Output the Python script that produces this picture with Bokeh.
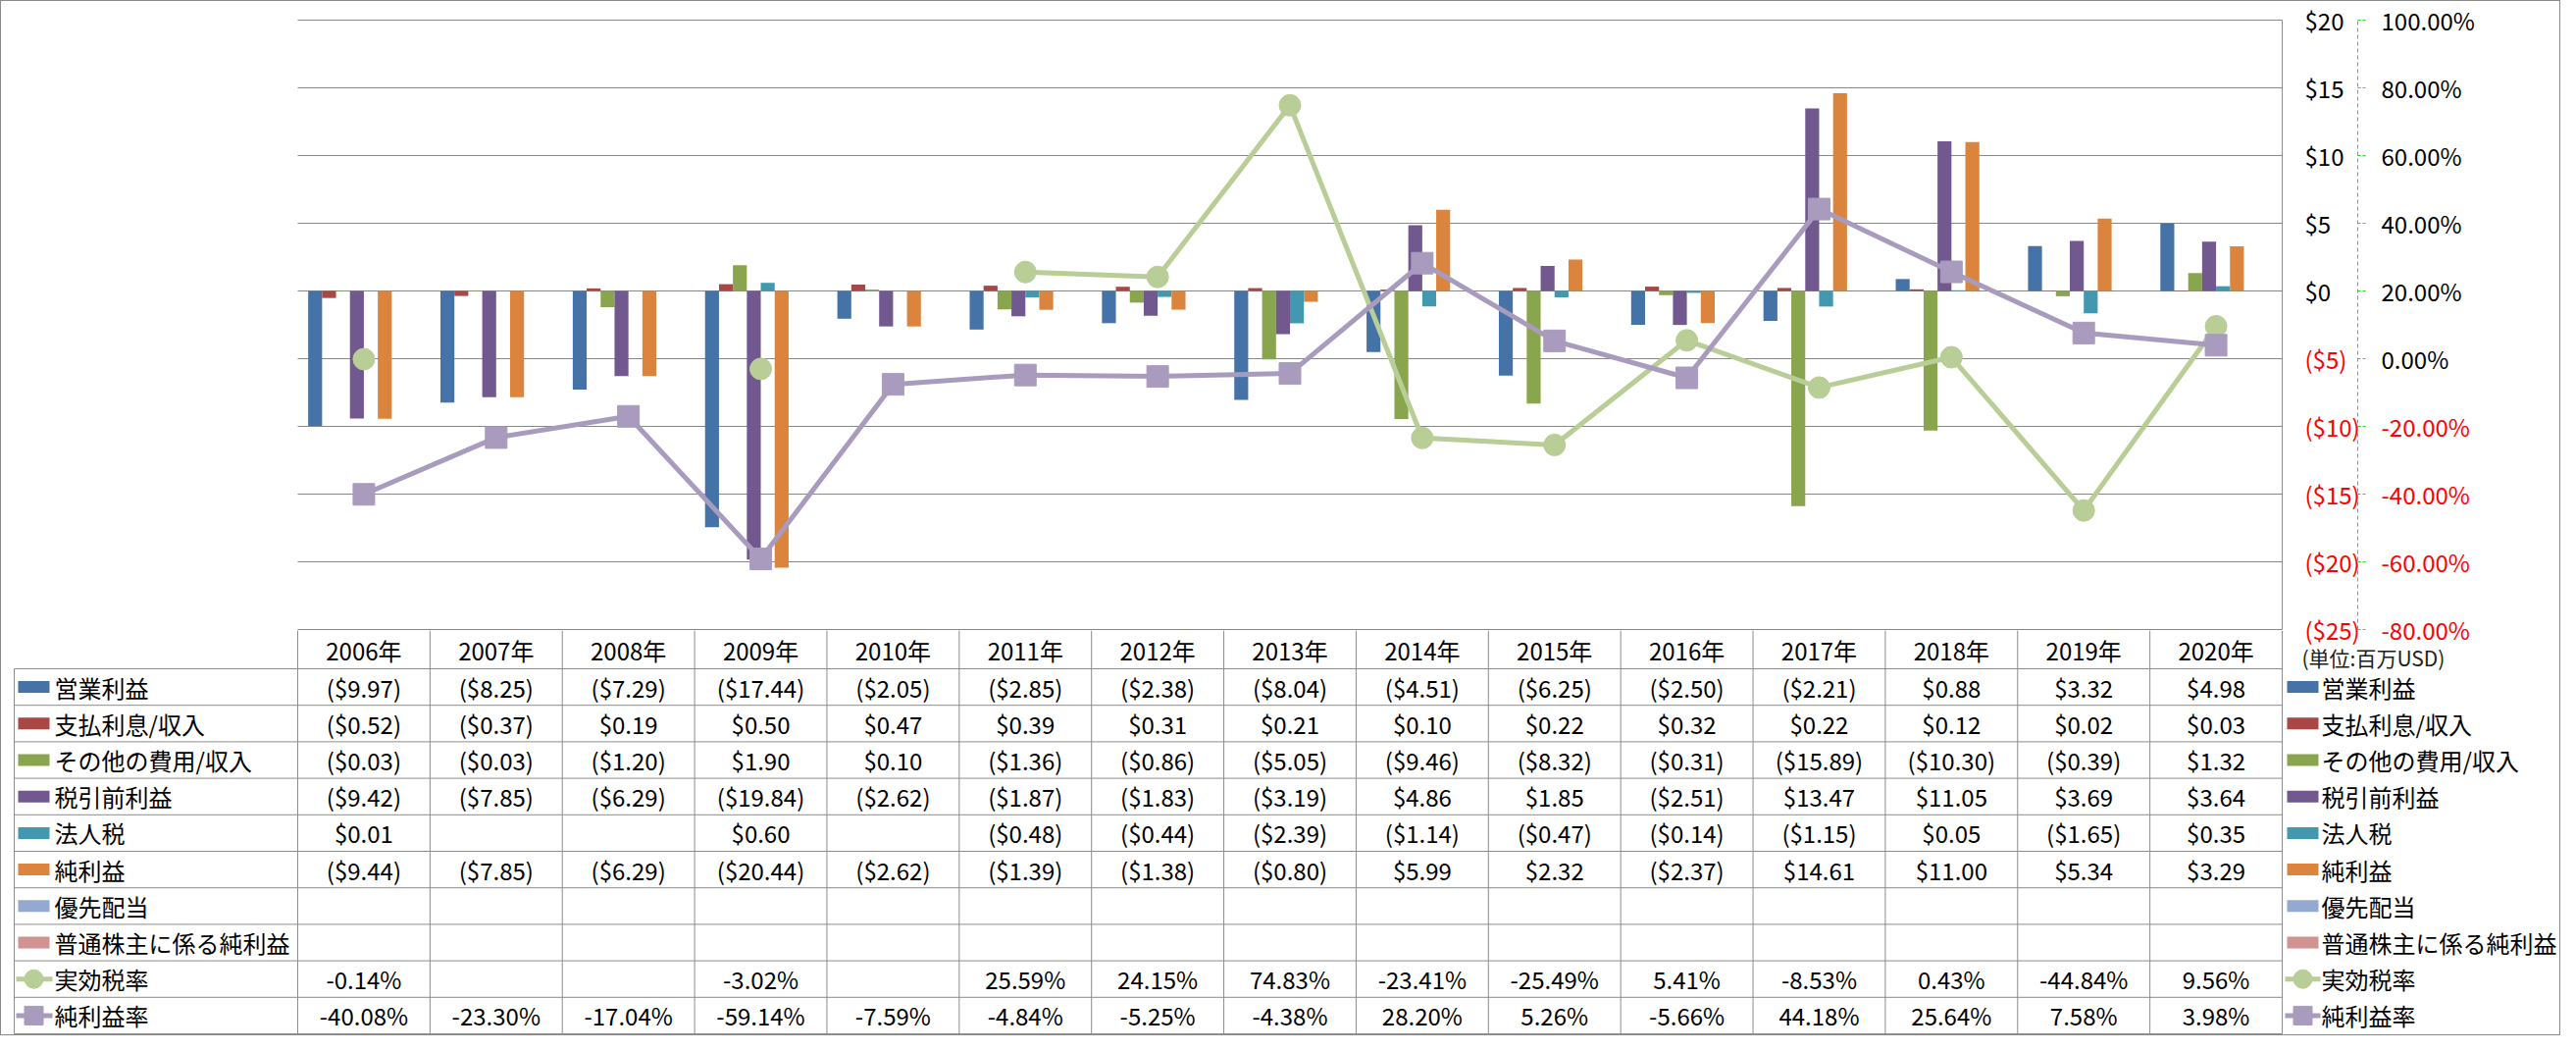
import numpy as np
from bokeh.plotting import figure
from bokeh.layouts import row, column
from bokeh.models import Range1d
from bokeh.core.properties import value
from bokeh.embed import file_html
from bokeh.resources import INLINE

# ---------------- data ----------------
years = ["2006年", "2007年", "2008年", "2009年", "2010年", "2011年", "2012年", "2013年",
         "2014年", "2015年", "2016年", "2017年", "2018年", "2019年", "2020年"]

bar_names = ["営業利益", "支払利息/収入", "その他の費用/収入", "税引前利益", "法人税", "純利益",
             "優先配当", "普通株主に係る純利益"]
operating_income = [-9.97, -8.25, -7.29, -17.44, -2.05, -2.85, -2.38, -8.04, -4.51, -6.25, -2.50, -2.21, 0.88, 3.32, 4.98]
interest_income = [-0.52, -0.37, 0.19, 0.50, 0.47, 0.39, 0.31, 0.21, 0.10, 0.22, 0.32, 0.22, 0.12, 0.02, 0.03]
other_income = [-0.03, -0.03, -1.20, 1.90, 0.10, -1.36, -0.86, -5.05, -9.46, -8.32, -0.31, -15.89, -10.30, -0.39, 1.32]
pretax_income = [-9.42, -7.85, -6.29, -19.84, -2.62, -1.87, -1.83, -3.19, 4.86, 1.85, -2.51, 13.47, 11.05, 3.69, 3.64]
income_tax = [0.01, None, None, 0.60, None, -0.48, -0.44, -2.39, -1.14, -0.47, -0.14, -1.15, 0.05, -1.65, 0.35]
net_income = [-9.44, -7.85, -6.29, -20.44, -2.62, -1.39, -1.38, -0.80, 5.99, 2.32, -2.37, 14.61, 11.00, 5.34, 3.29]
preferred_dividend = [None] * 15
common_net_income = [None] * 15

line_names = ["実効税率", "純利益率"]
effective_tax_rate = [-0.14, None, None, -3.02, None, 25.59, 24.15, 74.83, -23.41, -25.49, 5.41, -8.53, 0.43, -44.84, 9.56]
net_margin = [-40.08, -23.30, -17.04, -59.14, -7.59, -4.84, -5.25, -4.38, 28.20, 5.26, -5.66, 44.18, 25.64, 7.58, 3.98]

dollar_ticks = [20, 15, 10, 5, 0, -5, -10, -15, -20, -25]
pct_ticks = [100, 80, 60, 40, 20, 0, -20, -40, -60, -80]
unit_note = "(単位:百万USD)"

bar_series = [operating_income, interest_income, other_income, pretax_income, income_tax,
              net_income, preferred_dividend, common_net_income]
bar_colors = ["#4572A7", "#AA4643", "#89A54E", "#71588F", "#4198AF", "#DB843D", "#93A9CF", "#D19392"]
line_series = [effective_tax_rate, net_margin]
line_colors = ["#B9CD96", "#A99BBD"]
line_markers = ["circle", "square"]

# ---------------- geometry ----------------
FONT = "Noto Sans CJK JP"
GRID_C = "#878787"
TABLE_C = "#8c8c8c"
N = len(years)
PAGE = 8
TOTAL_W, TOTAL_H = 2608, 1053
PLOT_L, PLOT_R = 310, 2333          # page x of chart area
PLOT_T, PLOT_B = 27, 648            # page y of top / bottom grid lines
COLW = (PLOT_R - PLOT_L) / N
Y_MIN, Y_MAX = min(dollar_ticks), max(dollar_ticks)
P_MIN, P_MAX = min(pct_ticks), max(pct_ticks)
PXU = (PLOT_B - PLOT_T) / (Y_MAX - Y_MIN)
LEFT_W = PLOT_R + 1 - PAGE          # width of chart / table figures
R_W = TOTAL_W - LEFT_W
A_H = PLOT_B + 1 - PAGE
B_H = TOTAL_H - A_H
ROW_PX = 37.2
HDR = (688 - (PLOT_B + 1)) / ROW_PX  # header height in row units
X_START = -(PLOT_L - PAGE) / COLW
X_END = N + 1 / COLW


def to_pct(v):
    return P_MIN + (v - Y_MIN) * (P_MAX - P_MIN) / (Y_MAX - Y_MIN)


def nan(vals):
    return [np.nan if v is None else v for v in vals]


def fmt_usd(v):
    if v is None:
        return ""
    return f"(${abs(v):.2f})" if v < 0 else f"${v:.2f}"


def fmt_pct(v):
    return "" if v is None else f"{v:.2f}%"


def make_fig(w, h, xr, yr):
    f = figure(width=w, height=h, x_range=xr, y_range=yr,
               x_axis_location=None, y_axis_location=None, toolbar_location=None,
               output_backend="svg", min_border=0, outline_line_color=None)
    f.grid.visible = False
    return f


# ---------------- chart figure ----------------
A = make_fig(LEFT_W, A_H, Range1d(X_START, X_END),
             Range1d(Y_MIN - 1 / PXU, Y_MAX + (PLOT_T - PAGE) / PXU))
A.extra_y_ranges = {"pct": Range1d(to_pct(A.y_range.start), to_pct(A.y_range.end))}
nt = len(dollar_ticks)
A.segment(x0=[0] * nt, x1=[N] * nt, y0=dollar_ticks, y1=dollar_ticks,
          line_color=GRID_C, line_width=1)
A.segment(x0=[N], x1=[N], y0=[Y_MIN], y1=[Y_MAX], line_color=TABLE_C, line_width=1)

bw = 1 / (len(bar_series) + 1.5)
for k, (vals, col) in enumerate(zip(bar_series, bar_colors)):
    off = (1.25 + k) * bw
    xs = [i + off for i, v in enumerate(vals) if v is not None]
    tops = [v for v in vals if v is not None]
    if xs:
        A.vbar(x=xs, top=tops, bottom=0, width=bw, fill_color=col, line_color=None)

xc = [i + 0.5 for i in range(N)]
for vals, col, mk in zip(line_series, line_colors, line_markers):
    A.line(xc, nan(vals), y_range_name="pct", line_color=col, line_width=5,
           line_join="round", line_cap="round")
    A.scatter(xc, nan(vals), y_range_name="pct", marker=mk, size=22,
              fill_color=col, line_color=col, line_width=1)

# ---------------- data table figure ----------------
leg_l = (21 - PLOT_L) / COLW
B = make_fig(LEFT_W, B_H, Range1d(X_START, X_END), Range1d(start=B_H / ROW_PX, end=0))
nrows = len(bar_series) + len(line_series)
hy = [HDR + r for r in range(nrows + 1)]
B.segment(x0=[leg_l] * len(hy), x1=[N] * len(hy), y0=hy, y1=hy, line_color=TABLE_C, line_width=1)
vx = list(range(N + 1))
B.segment(x0=vx, x1=vx, y0=[0] * len(vx), y1=[HDR + nrows] * len(vx), line_color=TABLE_C, line_width=1)
B.segment(x0=[leg_l], x1=[leg_l], y0=[HDR], y1=[HDR + nrows], line_color=TABLE_C, line_width=1)

B.text(x=xc, y=[HDR / 2] * N, text=years, text_align="center", text_baseline="middle",
       text_font=value(FONT), text_font_size="24px", text_color="#000000")

cell_x, cell_y, cell_t = [], [], []
rows_text = [[fmt_usd(v) for v in s] for s in bar_series] + [[fmt_pct(v) for v in s] for s in line_series]
for r, texts in enumerate(rows_text):
    for i, t in enumerate(texts):
        if t:
            cell_x.append(i + 0.5)
            cell_y.append(HDR + r + 0.5)
            cell_t.append(t)
B.text(x=cell_x, y=cell_y, text=cell_t, text_align="center", text_baseline="middle",
       text_font=value(FONT), text_font_size="24px", text_color="#000000")

all_names = bar_names + line_names
row_cy = [HDR + r + 0.5 for r in range(nrows)]
sw_x = (41 - PLOT_L) / COLW
nb = len(bar_names)
B.rect(x=[sw_x] * nb, y=row_cy[:nb], width=32, height=12, width_units="screen",
       height_units="screen", fill_color=bar_colors, line_color=None)
for j, (col, mk) in enumerate(zip(line_colors, line_markers)):
    yy = row_cy[nb + j]
    B.segment(x0=[(23 - PLOT_L) / COLW], x1=[(60 - PLOT_L) / COLW], y0=[yy], y1=[yy],
              line_color=col, line_width=5)
    B.scatter(x=[sw_x], y=[yy], marker=mk, size=19, fill_color=col, line_color=col)
B.text(x=[(62 - PLOT_L) / COLW] * nrows, y=row_cy, text=all_names, text_align="left",
       text_baseline="middle", text_font=value(FONT), text_font_size="24px", text_color="#000000")

# ---------------- right axes + legend figure ----------------
r_y0 = Y_MIN - (PAGE + TOTAL_H - PLOT_B) / PXU
r_y1 = Y_MAX + (PLOT_T - PAGE) / PXU
R = make_fig(R_W, TOTAL_H, Range1d(0, R_W), Range1d(r_y0, r_y1))
R.extra_y_ranges = {
    "pct": Range1d(to_pct(r_y0), to_pct(r_y1)),
    "rows": Range1d(start=(PAGE + TOTAL_H - PLOT_B - 1) / ROW_PX, end=-(PLOT_B + 1 - PAGE) / ROW_PX),
}
x0 = LEFT_W + PAGE
d_labels = [f"${t}" if t >= 0 else f"(${-t})" for t in dollar_ticks]
d_colors = ["#000000" if t >= 0 else "#FF0000" for t in dollar_ticks]
R.text(x=[2356 - x0] * len(dollar_ticks), y=dollar_ticks, text=d_labels, text_color=d_colors,
       text_align="left", text_baseline="middle", text_font=value(FONT), text_font_size="24px")

ax_x = 2410 - x0
R.segment(x0=[ax_x], x1=[ax_x], y0=[P_MIN], y1=[P_MAX], y_range_name="pct",
          line_color="#22DD22", line_width=1, line_dash="4 3")
R.segment(x0=[ax_x] * len(pct_ticks), x1=[ax_x + 8] * len(pct_ticks), y0=pct_ticks, y1=pct_ticks,
          y_range_name="pct", line_color="#22DD22", line_width=1, line_dash="3 2")
p_labels = [f"{t:.2f}%" for t in pct_ticks]
p_colors = ["#000000" if t >= 0 else "#FF0000" for t in pct_ticks]
R.text(x=[2434 - x0] * len(pct_ticks), y=pct_ticks, y_range_name="pct", text=p_labels,
       text_color=p_colors, text_align="left", text_baseline="middle",
       text_font=value(FONT), text_font_size="24px")

R.text(x=[2353 - x0], y=[(676 - PLOT_B - 1) / ROW_PX], y_range_name="rows", text=[unit_note],
       text_align="left", text_baseline="middle", text_font=value(FONT), text_font_size="21px",
       text_color="#202020")

rsw = 2354 - x0
R.rect(x=[rsw] * nb, y=row_cy[:nb], y_range_name="rows", width=32, height=12,
       width_units="screen", height_units="screen", fill_color=bar_colors, line_color=None)
for j, (col, mk) in enumerate(zip(line_colors, line_markers)):
    yy = row_cy[nb + j]
    R.segment(x0=[2336 - x0], x1=[2372 - x0], y0=[yy], y1=[yy], y_range_name="rows",
              line_color=col, line_width=5)
    R.scatter(x=[rsw], y=[yy], y_range_name="rows", marker=mk, size=19, fill_color=col, line_color=col)
R.text(x=[2373 - x0] * nrows, y=row_cy, y_range_name="rows", text=all_names, text_align="left",
       text_baseline="middle", text_font=value(FONT), text_font_size="24px", text_color="#000000")

layout = row(column(A, B), R, styles={"border": "1px solid #8a8a8a"})
open("out.html", "w").write(file_html(layout, INLINE))
